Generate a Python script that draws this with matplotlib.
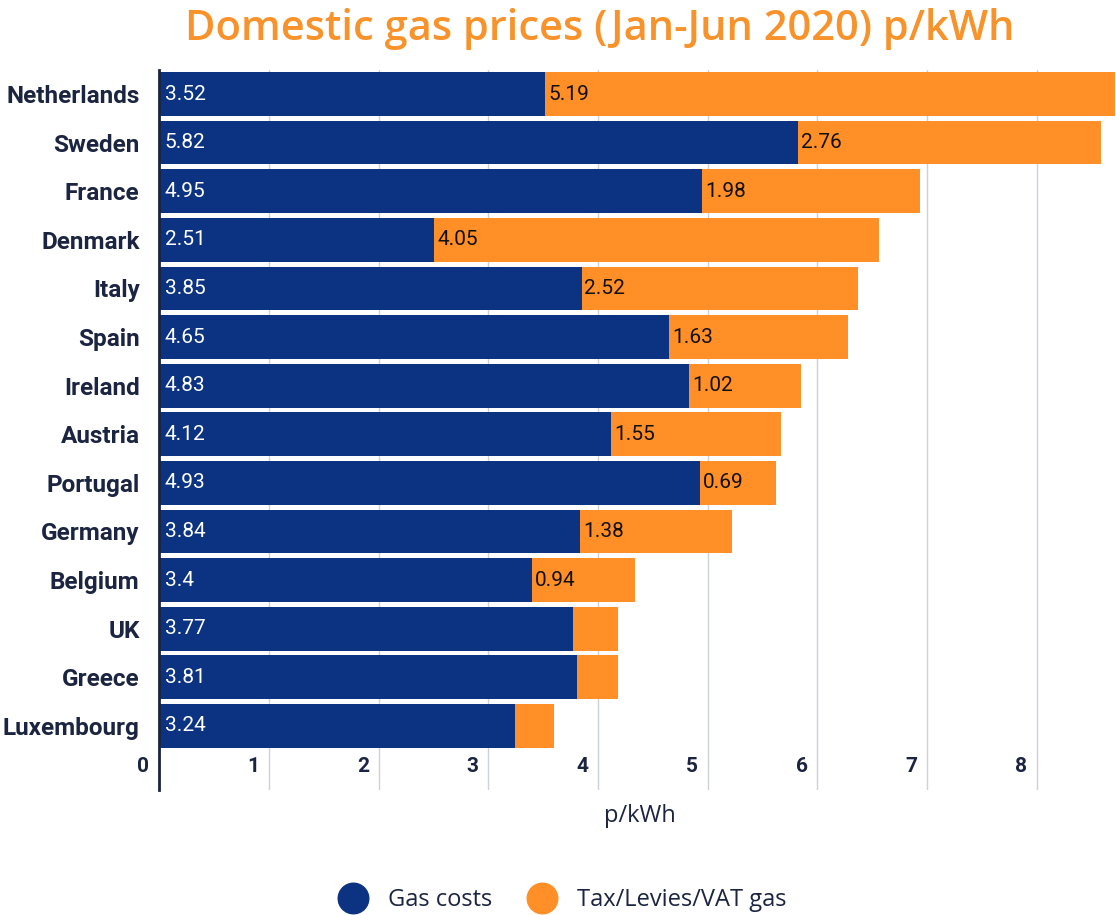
import matplotlib.pyplot as plt
from matplotlib.lines import Line2D

countries = ["Netherlands", "Sweden", "France", "Denmark", "Italy", "Spain", "Ireland",
             "Austria", "Portugal", "Germany", "Belgium", "UK", "Greece", "Luxembourg"]
gas_costs = [3.52, 5.82, 4.95, 2.51, 3.85, 4.65, 4.83, 4.12, 4.93, 3.84, 3.4, 3.77, 3.81, 3.24]
tax_levies = [5.19, 2.76, 1.98, 4.05, 2.52, 1.63, 1.02, 1.55, 0.69, 1.38, 0.94, 0.41, 0.37, 0.36]
xticks = [0, 1, 2, 3, 4, 5, 6, 7, 8]

navy = "#0C3381"
orange = "#FF8F26"
dark = "#1B2440"

fig = plt.figure(figsize=(11.16, 9.15), dpi=100)
ax = fig.add_axes([0.1425, 0.1366, 0.8575, 0.7872])

y = list(range(len(countries)))
ax.barh(y, gas_costs, height=0.9, color=navy, zorder=2)
ax.barh(y, tax_levies, left=gas_costs, height=0.9, color=orange, zorder=2)

for i in y:
    ax.annotate(str(gas_costs[i]), (0, i), xytext=(4, 0), textcoords="offset points",
                ha="left", va="center", color="white", fontsize=15, family="Roboto", zorder=3)
    if tax_levies[i] >= 0.6:
        ax.annotate(str(tax_levies[i]), (gas_costs[i], i), xytext=(2, 0), textcoords="offset points",
                    ha="left", va="center", color="#111111", fontsize=15, family="Roboto", zorder=3)

ax.set_xlim(0, 8.72)
ax.set_ylim(14.32, -0.5)
ax.set_yticks(y)
ax.set_yticklabels(countries, fontsize=17.5, fontweight="bold", family="Roboto", color=dark)
ax.tick_params(axis="y", length=0, pad=14)

ax.set_xticks(xticks)
ax.set_xticklabels([])
ax.tick_params(axis="x", length=0)
for t in xticks:
    ax.annotate(str(t), (t, 0), xycoords=("data", "axes fraction"), xytext=(-7, 17),
                textcoords="offset points", ha="right", va="center",
                fontsize=15, fontweight="bold", family="Roboto", color=dark)

ax.grid(axis="x", color="#CDD1D8", linewidth=1, zorder=0)
for s in ["top", "right", "bottom"]:
    ax.spines[s].set_visible(False)
ax.spines["left"].set_color(dark)
ax.spines["left"].set_linewidth(2)
ax.spines["left"].set_zorder(4)

fig.text(0.5735, 0.108, "p/kWh", ha="center", va="center", fontsize=17, family="Open Sans", color=dark)
fig.text(0.5376, 0.968, "Domestic gas prices (Jan-Jun 2020) p/kWh", ha="center", va="center",
         fontsize=30, family="Open Sans", fontweight="semibold", color="#F8922A")

handles = [Line2D([], [], marker="o", linestyle="", markersize=22, color=navy),
           Line2D([], [], marker="o", linestyle="", markersize=22, color=orange)]
fig.legend(handles, ["Gas costs", "Tax/Levies/VAT gas"], loc="center", bbox_to_anchor=(0.5, 0.016),
           ncol=2, frameon=False, prop={"family": "Open Sans", "size": 17}, handletextpad=0.5,
           columnspacing=1.1, labelcolor=dark)

fig.savefig("out.png", dpi=100)
